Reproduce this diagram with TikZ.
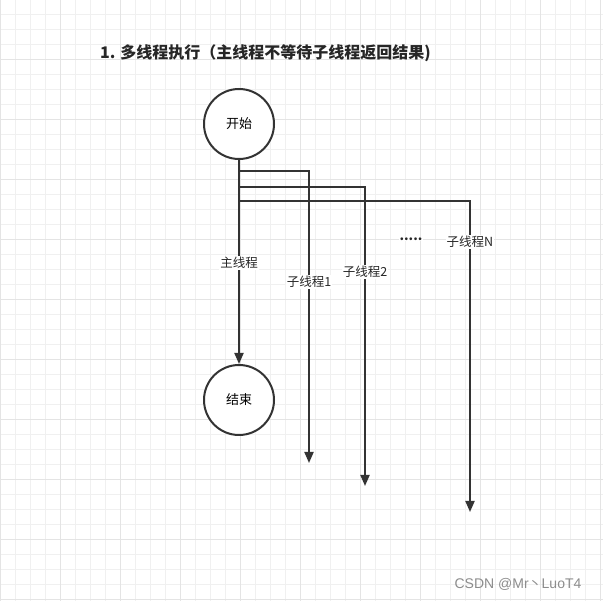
\documentclass[tikz,border=0pt]{standalone}
\usepackage{fontspec}
\setmainfont{Noto Sans CJK SC}
\newfontfamily\markfont{Liberation Sans}
\usepackage{tikz}
\usepackage{xcolor}
\usetikzlibrary{arrows.meta}
\definecolor{line-dark}{HTML}{333333}
\definecolor{grid-minor}{HTML}{F0F0F0}
\definecolor{grid-major}{HTML}{E4E4E4}
\tikzset{
    grid-line/.style = {draw=grid-minor, line width=1pt},
    grid-major-line/.style = {draw=grid-major, line width=1pt},
    state-circle/.style = {draw=line-dark, fill=white, circle, line width=2pt, minimum size=70pt, inner sep=0pt, font=\fontsize{13}{13}\selectfont},
    thread-line/.style = {draw=line-dark, line width=2pt, -{Triangle[length=11pt,width=9pt]}},
    thread-label/.style = {fill=white, inner sep=1pt, font=\fontsize{12.5}{13}\selectfont, text=black!85},
    title-text/.style = {anchor=west, inner sep=0pt, font=\fontsize{16}{16}\selectfont\bfseries, text=black!85},
    watermark/.style = {inner sep=1pt, font=\markfont\fontsize{14}{14}\selectfont, text=black!45},
}

\begin{document}
\begin{tikzpicture}[x=1pt, y=-1pt]
\useasboundingbox (0,0) rectangle (603,601);
\fill[white] (0,0) rectangle (603,601);
\foreach \x in {0,15,...,600} \draw[grid-line] (\x,0) -- (\x,601);
\foreach \y in {0,15,...,600} \draw[grid-line] (0,\y) -- (603,\y);
\foreach \x in {0,60,...,600} \draw[grid-major-line] (\x,0) -- (\x,601);
\foreach \y in {0,60,...,600} \draw[grid-major-line] (0,\y) -- (603,\y);

\node[title-text] (title) at (100,53) {1. 多线程执行（主线程不等待子线程返回结果)};

\node[state-circle] (start-node) at (239,124) {开始};
\node[state-circle] (end-node) at (239,400) {结束};

\coordinate (fork-1) at (309,171);
\coordinate (fork-2) at (365,187);
\coordinate (fork-n) at (470,201);
\coordinate (tip-1) at (309,463);
\coordinate (tip-2) at (365,486);
\coordinate (tip-n) at (470,512);

\draw[thread-line] (start-node) -- (end-node);
\draw[thread-line] (start-node.south) |- (fork-1) -- (tip-1);
\draw[thread-line] (start-node.south) |- (fork-2) -- (tip-2);
\draw[thread-line] (start-node.south) |- (fork-n) -- (tip-n);

\node[thread-label] (main-label) at (239,263) {主线程};
\node[thread-label] (sub-label-1) at (309,282) {子线程1};
\node[thread-label] (sub-label-2) at (365,272) {子线程2};
\node[thread-label] (sub-label-n) at (470,242) {子线程N};
\node[thread-label, font=\fontsize{13}{13}\selectfont\bfseries] (dots-label) at (411,239) {.....};

\node[watermark] (mark) at (518,584) {CSDN @Mr{\fontsize{13}{13}\selectfont\rmfamily 丶}LuoT4};
\end{tikzpicture}
\end{document}
